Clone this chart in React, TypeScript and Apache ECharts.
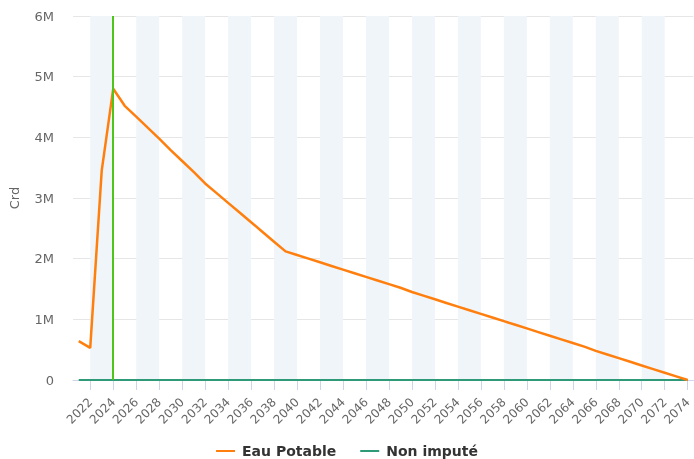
import React, { useEffect, useRef } from "react";
import * as echarts from "echarts";

const years: string[] = [
  "2021", "2022", "2023", "2024", "2025", "2026", "2027", "2028", "2029", "2030",
  "2031", "2032", "2033", "2034", "2035", "2036", "2037", "2038", "2039", "2040",
  "2041", "2042", "2043", "2044", "2045", "2046", "2047", "2048", "2049", "2050",
  "2051", "2052", "2053", "2054", "2055", "2056", "2057", "2058", "2059", "2060",
  "2061", "2062", "2063", "2064", "2065", "2066", "2067", "2068", "2069", "2070",
  "2071", "2072", "2073", "2074",
];

// Capital restant dû, in millions
const eauPotable: number[] = [
  0.64, 0.53, 3.45, 4.80, 4.52, 4.34, 4.16, 3.98, 3.79, 3.61,
  3.43, 3.24, 3.08, 2.92, 2.76, 2.60, 2.44, 2.28, 2.12, 2.06,
  2.00, 1.94, 1.88, 1.82, 1.76, 1.70, 1.64, 1.58, 1.52, 1.45,
  1.39, 1.33, 1.27, 1.21, 1.15, 1.09, 1.03, 0.97, 0.91, 0.85,
  0.79, 0.73, 0.67, 0.61, 0.55, 0.48, 0.42, 0.36, 0.30, 0.24,
  0.18, 0.12, 0.06, 0.00,
];

const nonImpute: number[] = [
  0, 0, 0, 0, 0, 0, 0, 0, 0, 0,
  0, 0, 0, 0, 0, 0, 0, 0, 0, 0,
  0, 0, 0, 0, 0, 0, 0, 0, 0, 0,
  0, 0, 0, 0, 0, 0, 0, 0, 0, 0,
  0, 0, 0, 0, 0, 0, 0, 0, 0, 0,
  0, 0, 0, 0,
];

const currentYear = "2024";
const yTicks: number[] = [0, 1, 2, 3, 4, 5, 6];

const FONT = "DejaVu Sans";
const evenYear = (_i: number, v: string) => Number(v) % 2 === 0;

export default function App() {
  const ref = useRef<HTMLDivElement>(null);
  useEffect(() => {
    if (!ref.current) return;
    const chart = echarts.init(ref.current, null, { renderer: "svg" });
    chart.setOption({
      animation: false,
      textStyle: { fontFamily: FONT },
      grid: { left: 71.7, top: 16, width: 626.4, height: 364 },
      legend: {
        left: "center",
        top: 439,
        icon: "rect",
        itemWidth: 19,
        itemHeight: 2,
        itemGap: 24,
        textStyle: { color: "#333", fontWeight: "bold", fontSize: 14, fontFamily: FONT, padding: [0, 0, 0, 2] },
        data: ["Eau Potable", "Non imputé"],
      },
      xAxis: {
        type: "category",
        data: years,
        boundaryGap: true,
        axisLine: { show: true, lineStyle: { color: "#ccd6eb", width: 1 } },
        axisTick: { show: true, alignWithLabel: true, interval: evenYear, length: 10, lineStyle: { color: "#ccd6eb" } },
        axisLabel: { interval: evenYear, rotate: 45, color: "#666", fontSize: 12, margin: 20, fontFamily: FONT },
        splitLine: { show: false },
        splitArea: {
          show: true,
          alignWithLabel: true,
          interval: evenYear,
          areaStyle: { color: ["#f0f5f9", "rgba(255,255,255,0)"] },
        },
      },
      yAxis: {
        type: "value",
        min: yTicks[0] * 1e6,
        max: yTicks[yTicks.length - 1] * 1e6,
        interval: 1e6,
        name: "Crd",
        nameLocation: "middle",
        nameGap: 52,
        nameTextStyle: { color: "#666", fontSize: 13, fontFamily: FONT },
        axisLine: { show: false },
        axisTick: { show: false },
        axisLabel: {
          color: "#666",
          fontSize: 13,
          margin: 19,
          fontFamily: FONT,
          formatter: (v: number) => (v === 0 ? "0" : v / 1e6 + "M"),
        },
        splitLine: { lineStyle: { color: "#e6e6e6", width: 1 } },
      },
      series: [
        {
          name: "Non imputé",
          type: "line",
          data: nonImpute,
          symbol: "none",
          color: "#2e9a78",
          lineStyle: { width: 2, color: "#2e9a78" },
          markLine: {
            silent: true,
            symbol: "none",
            label: { show: false },
            lineStyle: { color: "#4fc41a", width: 2, type: "solid" },
            data: [{ xAxis: currentYear }],
          },
          z: 2,
        },
        {
          name: "Eau Potable",
          type: "line",
          data: eauPotable.map((v) => v * 1e6),
          symbol: "none",
          color: "#ff7f0e",
          lineStyle: { width: 2.5, color: "#ff7f0e" },
          z: 3,
        },
      ],
    });
    return () => chart.dispose();
  }, []);
  return (
    <div
      ref={ref}
      style={{ position: "fixed", left: 0, top: 0, width: 694, height: 459 }}
    />
  );
}
